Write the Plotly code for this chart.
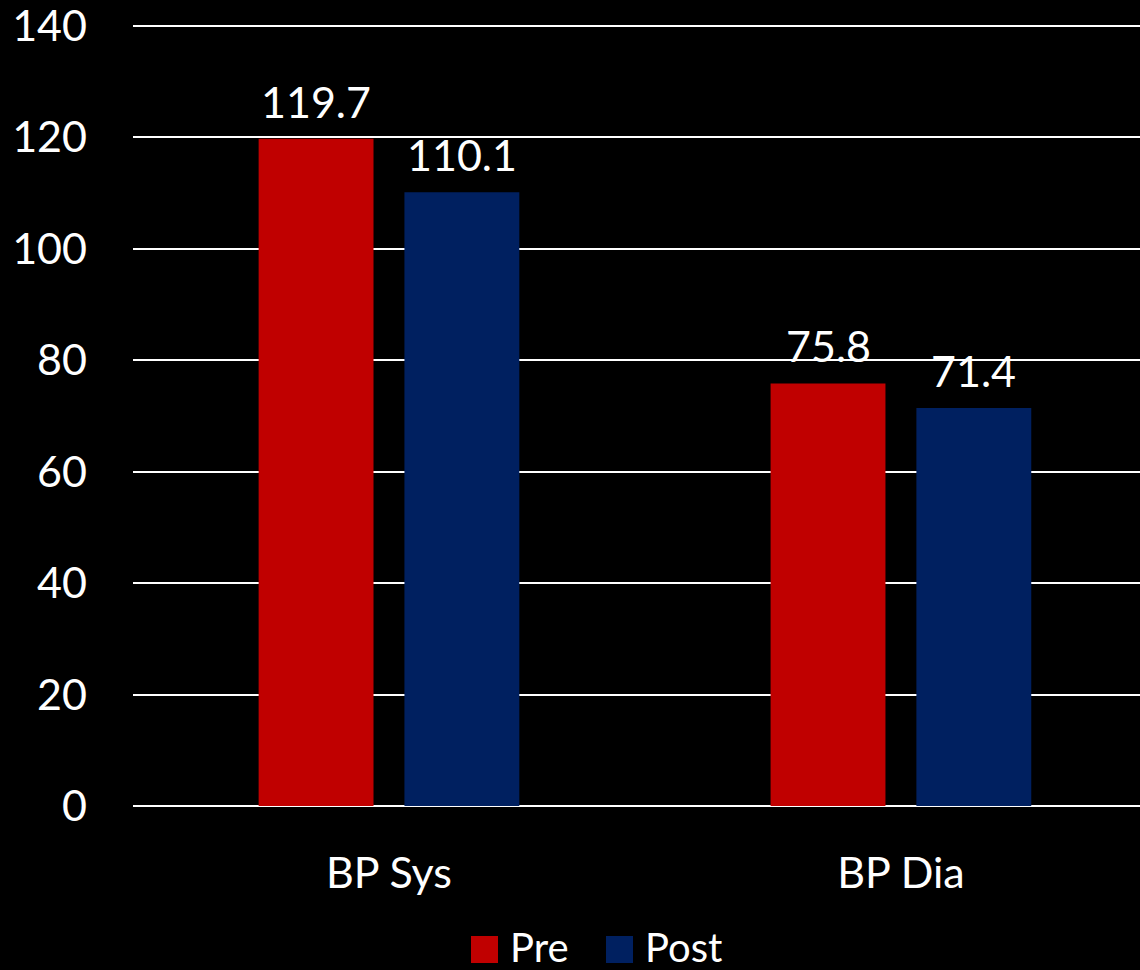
import plotly.graph_objects as go

categories = ["BP Sys", "BP Dia"]
series_names = ["Pre", "Post"]
pre_values = [119.7, 75.8]
post_values = [110.1, 71.4]
y_ticks = [0, 20, 40, 60, 80, 100, 120, 140]

colors = ["#C00000", "#002060"]
FONT = "Lato, Open Sans, sans-serif"
BAR_W = 0.2244
OFFSETS = [-0.2546, 0.0302]

fig = go.Figure()
for name, vals, col, off in zip(series_names, [pre_values, post_values], colors, OFFSETS):
    xs = list(range(len(categories)))
    fig.add_trace(go.Bar(
        x=xs, y=vals, name=name, marker=dict(color=col, line=dict(width=0)),
        width=BAR_W, offset=off, showlegend=False,
    ))
    for x, v in zip(xs, vals):
        fig.add_annotation(
            x=x + off + BAR_W / 2, y=v, xref="x", yref="y",
            text=f"{v:.1f}", showarrow=False, yanchor="bottom", yshift=10,
            font=dict(family=FONT, size=43, color="white"),
        )

# legend (manual, large swatches)
PLOT_L, PLOT_W, AX0, PLOT_H = 133, 1007, 806, 786
leg_x = [471, 606]
leg_y_center = 949
for name, col, lx in zip(series_names, colors, leg_x):
    fig.add_shape(type="rect", xref="paper", yref="paper",
                  x0=(lx - PLOT_L) / PLOT_W, x1=(lx + 27 - PLOT_L) / PLOT_W,
                  y0=-(leg_y_center + 14 - AX0) / PLOT_H, y1=-(leg_y_center - 13 - AX0) / PLOT_H,
                  fillcolor=col, line=dict(width=0))
    fig.add_annotation(xref="paper", yref="paper",
                       x=(lx + 37 - PLOT_L) / PLOT_W, y=-(leg_y_center - 2 - AX0) / PLOT_H,
                       xanchor="left", yanchor="middle", text=name, showarrow=False,
                       font=dict(family=FONT, size=40, color="white"))

fig.update_layout(
    width=1140, height=970,
    paper_bgcolor="black", plot_bgcolor="black",
    margin=dict(l=133, r=0, t=20, b=164),
    barmode="overlay",
    font=dict(family=FONT, color="white", size=43),
    xaxis=dict(
        tickmode="array", tickvals=list(range(len(categories))), ticktext=categories,
        range=[-0.5, 1.467], showgrid=False, zeroline=False, showline=False,
        ticks="", ticklabelstandoff=38,
        tickfont=dict(family=FONT, size=43, color="white"),
    ),
    yaxis=dict(
        range=[0, 141], tickvals=y_ticks, showgrid=True, gridcolor="white", gridwidth=1.5,
        zeroline=True, zerolinecolor="white", zerolinewidth=1.5, showline=False,
        ticks="", ticklabelstandoff=45, ticklabeloverflow="allow",
        tickfont=dict(family=FONT, size=43, color="white"),
    ),
)

fig.write_html(
    "out.html",
    config={"displayModeBar": False},
    post_script="document.body.style.margin='0';document.body.style.padding='0';"
                "document.body.style.overflow='hidden';document.body.style.background='black';",
)
